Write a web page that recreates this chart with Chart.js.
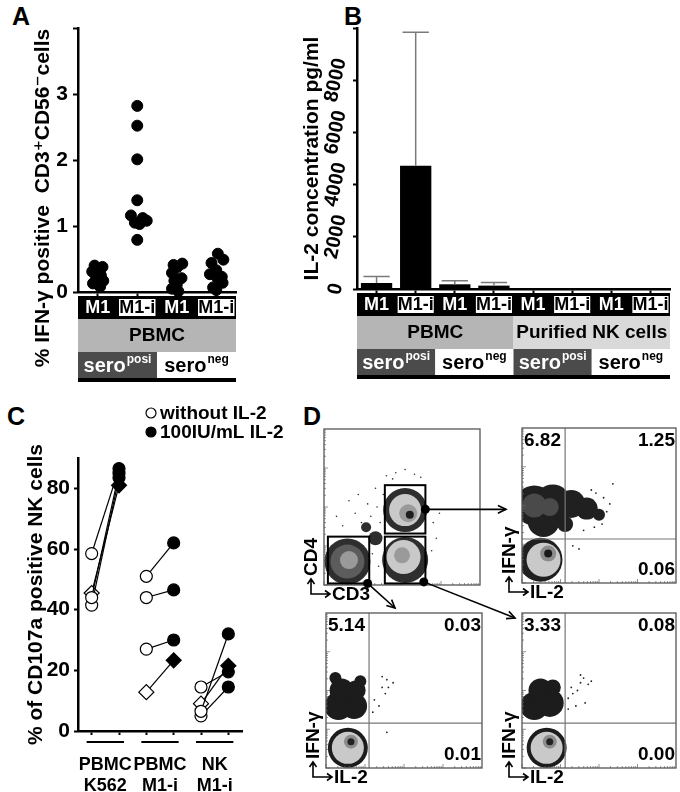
<!DOCTYPE html>
<html>
<head>
<meta charset="utf-8">
<script src="https://cdn.jsdelivr.net/npm/chart.js@4.4.0/dist/chart.umd.min.js"></script>
<style>
  body { margin: 0; background: #fff; width: 680px; height: 792px; position: relative; overflow: hidden;
         font-family: "Liberation Sans", Arial, sans-serif; }
  canvas { position: absolute; }
  .panel { position: absolute; font-weight: bold; font-size: 25px; line-height: 25px; }
</style>
</head>
<body>
<div class="panel" style="left:12px;top:4px">A</div>
<div class="panel" style="left:344px;top:4px">B</div>
<div class="panel" style="left:7px;top:404px">C</div>
<div class="panel" style="left:303px;top:404px">D</div>

<canvas id="chartA" width="240" height="392" style="left:0;top:0"></canvas>
<canvas id="chartB" width="380" height="392" style="left:300px;top:0"></canvas>
<canvas id="chartC" width="300" height="392" style="left:0;top:400px"></canvas>
<canvas id="flow1" width="190" height="185" style="left:296px;top:420px"></canvas>
<canvas id="flow2" width="186" height="185" style="left:494px;top:420px"></canvas>
<canvas id="flow3" width="190" height="188" style="left:296px;top:604px"></canvas>
<canvas id="flow4" width="186" height="188" style="left:494px;top:604px"></canvas>
<canvas id="arrows" width="680" height="792" style="left:0;top:0;pointer-events:none"></canvas>

<script>
// ---- data ----

// panel A: % IFN-y positive CD3+CD56- cells, one dot per donor
const aStim = ['M1', 'M1-i', 'M1', 'M1-i'];
const aCells = ['PBMC'];
const aSero = ['posi', 'neg'];
const aM1Pos = [0.40, 0.38, 0.31, 0.25, 0.21, 0.17, 0.13, 0.08];
const aM1PosJit = [-0.08, 0.12, -0.14, 0.08, -0.04, 0.14, -0.12, 0.06];
const aM1iPos = [2.82, 2.52, 2.01, 1.39, 1.16, 1.12, 1.08, 1.05, 1.03, 0.79];
const aM1iPosJit = [0, 0, 0, 0, -0.16, 0.14, 0.24, -0.06, 0.06, 0];
const aM1Neg = [0.43, 0.41, 0.38, 0.29, 0.21, 0.17, 0.11, 0.05, 0.01];
const aM1NegJit = [0.14, -0.08, 0.02, -0.12, 0.12, -0.06, 0.0, -0.12, 0.04];
const aM1iNeg = [0.58, 0.49, 0.44, 0.33, 0.27, 0.23, 0.20, 0.14, 0.07, 0.03];
const aM1iNegJit = [0.04, 0.18, -0.12, 0.0, -0.16, 0.14, 0.04, 0.16, -0.08, 0.0];

// panel B: IL-2 concentration pg/ml (mean + SD)
const bStim = ['M1', 'M1-i', 'M1', 'M1-i', 'M1', 'M1-i', 'M1', 'M1-i'];
const bCells = ['PBMC', 'Purified NK cells'];
const bSero = ['posi', 'neg', 'posi', 'neg'];
const bMean = [230, 4720, 180, 130, 0, 0, 0, 0];
const bSD = [250, 5120, 140, 115, 0, 0, 0, 0];

// panel C: % CD107a positive NK cells, paired donors
const cGroups = [['PBMC', 'K562'], ['PBMC', 'M1-i'], ['NK', 'M1-i']];
const cSeries = ['without IL-2', '100IU/mL IL-2'];
const cWithout = [[58.5, 44, 41.5, 45.5], [51, 44, 27, 12.8], [14.5, 6.5, 5, 9]];
const cWith = [[86.5, 85, 83.5, 81], [62, 46.5, 30, 23.3], [19.5, 32, 14.5, 21.5]];
const cShape = ['circle', 'circle', 'circle', 'rectRot'];

// panel D: flow plots (populations as x, y, radius in 0-100 display units)
const d1Gates = [[2.5, 29, 1, 31], [39, 65, 33, 64], [39, 65, 1, 31]];
const d1Layers = [
  ['#2e2e2e', [[15, 15, 23], [52, 48, 22], [52, 16, 23], [33, 30, 7], [27, 37, 5]]],
  ['#5c5c5c', [[15, 15, 17]]],
  ['#c9c9c9', [[52, 48, 16], [51, 18, 17]]],
  ['#9a9a9a', [[16, 16, 9], [54, 46, 9], [50, 19, 8]]],
  ['#1e1e1e', [[55, 45, 4]]],
  ['#333333', [[24, 40, 0.8], [30, 44, 0.8], [20, 46, 0.8], [34, 50, 0.8], [28, 52, 0.8], [36, 40, 0.8],
               [40, 70, 0.8], [46, 72, 0.8], [52, 74, 0.8], [58, 71, 0.8], [62, 69, 0.8], [44, 68, 0.8],
               [70, 40, 0.8], [72, 30, 0.8], [69, 22, 0.8], [74, 46, 0.8], [12, 38, 0.8], [8, 44, 0.8],
               [22, 58, 0.8], [16, 54, 0.8], [33, 62, 0.8], [38, 58, 0.8], [31, 20, 0.8], [35, 12, 0.8]]]
];
const d2Layers = [
  ['#202020', [[12, 15, 22], [8, 50, 20], [20, 52, 18], [32, 51, 14], [42, 48, 11], [50, 44, 6], [14, 40, 16], [28, 38, 8]]],
  ['#4a4a4a', [[8, 50, 12], [18, 49, 9]]],
  ['#c9c9c9', [[14, 15, 17]]],
  ['#8c8c8c', [[17, 19, 8]]],
  ['#1a1a1a', [[17, 19, 4]]],
  ['#222222', [[59, 64, 0.9], [45, 60, 0.9], [47, 36, 0.9], [52, 38, 0.9], [40, 34, 0.9], [33, 24, 0.9],
               [37, 22, 0.9], [55, 46, 0.9], [57, 51, 0.9], [53, 55, 0.9], [48, 58, 0.9]]]
];
const d3Layers = [
  ['#1c1c1c', [[14, 13, 20], [8, 40, 14], [18, 40, 13], [10, 50, 12], [19, 50, 10], [6, 58, 6], [22, 56, 6]]],
  ['#c9c9c9', [[14, 13, 16]]],
  ['#8c8c8c', [[16, 17, 7]]],
  ['#222222', [[16, 17, 3.5]]],
  ['#222222', [[31, 44, 0.9], [34, 40, 0.9], [38, 48, 0.9], [36, 52, 0.9], [40, 52, 0.9], [39, 57, 0.9],
               [43, 55, 0.9], [36, 59, 0.9], [39, 23, 0.9], [30, 36, 0.9]]]
];
const d4Layers = [
  ['#1c1c1c', [[16, 13, 20], [8, 40, 14], [18, 42, 14], [12, 50, 12], [20, 52, 8]]],
  ['#c9c9c9', [[16, 13, 16]]],
  ['#8c8c8c', [[18, 17, 7]]],
  ['#222222', [[18, 17, 3.5]]],
  ['#222222', [[30, 45, 0.9], [33, 48, 0.9], [36, 50, 0.9], [32, 52, 0.9], [38, 55, 0.9], [40, 58, 0.9],
               [43, 54, 0.9], [45, 56, 0.9], [35, 40, 0.9], [30, 38, 0.9], [41, 42, 0.9], [38, 60, 0.9]]]
];
const dQuads = [null, [28, 28.4], [27.6, 29], [28, 29]];
const dNumbers = [null, ['6.82', '1.25', '', '0.06'], ['5.14', '0.03', '', '0.01'], ['3.33', '0.08', '', '0.00']];

// ---- shared stuff ----
const FONT = '"Liberation Sans", Arial, "DejaVu Sans", sans-serif';
Chart.defaults.font.family = FONT;
Chart.defaults.font.weight = 'bold';
Chart.defaults.color = '#000';

// the black/grey label rows under panels A and B
const tablePlugin = {
  id: 'tableRows',
  afterDraw(chart, args, o) {
    const { ctx, chartArea: a } = chart;
    const full = a.right - a.left;
    const w = full / o.stim.length;
    let y = a.bottom + 4;
    ctx.save();
    ctx.textAlign = 'center';
    ctx.textBaseline = 'middle';
    ctx.fillStyle = '#000';
    ctx.fillRect(a.left, y, full, 23);
    ctx.font = 'bold 18px ' + FONT;
    o.stim.forEach((s, i) => {
      const x0 = a.left + w * i;
      if (s === 'M1-i') {
        ctx.fillStyle = '#fff';
        ctx.fillRect(x0 + 1.5, y + 3, w - 3, 17);
        ctx.fillStyle = '#000';
      } else {
        ctx.fillStyle = '#fff';
      }
      ctx.fillText(s, x0 + w / 2, y + 12.5);
    });
    y += 23;
    const cw = full / o.cells.length;
    ctx.font = 'bold 19px ' + FONT;
    o.cells.forEach((c, i) => {
      ctx.fillStyle = o.cellColors[i];
      ctx.fillRect(a.left + cw * i, y, cw, 33);
      ctx.fillStyle = '#000';
      ctx.fillText(c, a.left + cw * (i + 0.5), y + 17);
    });
    y += 33;
    const sw = full / o.sero.length;
    o.sero.forEach((s, i) => {
      const pos = s === 'posi';
      ctx.fillStyle = pos ? '#4b4b4b' : '#fff';
      ctx.fillRect(a.left + sw * i, y, sw, 26);
      ctx.fillStyle = pos ? '#fff' : '#000';
      ctx.font = 'bold 20px ' + FONT;
      const w1 = ctx.measureText('sero').width;
      ctx.font = 'bold 12px ' + FONT;
      const w2 = ctx.measureText(s).width;
      const sx = a.left + sw * (i + 0.5) - (w1 + w2 + 1) / 2;
      ctx.textAlign = 'left';
      ctx.font = 'bold 20px ' + FONT;
      ctx.fillText('sero', sx, y + 14);
      ctx.font = 'bold 12px ' + FONT;
      ctx.fillText(s, sx + w1 + 1, y + 8);
      ctx.textAlign = 'center';
    });
    y += 26;
    ctx.fillStyle = '#000';
    ctx.fillRect(a.left, y, full, 4);
    ctx.restore();
  }
};

// rotated axis title placed freely (panel A's title runs past the axis)
const sideTitle = {
  id: 'sideTitle',
  afterDraw(chart, args, o) {
    const { ctx } = chart;
    ctx.save();
    ctx.translate(o.x, o.y);
    ctx.rotate(-Math.PI / 2);
    ctx.textAlign = 'center';
    ctx.textBaseline = 'middle';
    ctx.fillStyle = '#000';
    ctx.font = 'bold 21px ' + FONT;
    ctx.fillText(o.text, 0, 0);
    ctx.restore();
  }
};

function jitter(vals, jit, cat) {
  return vals.map((v, i) => ({ x: cat + jit[i], y: v }));
}

// This is panel A
new Chart(document.getElementById('chartA'), {
  type: 'scatter',
  data: {
    datasets: [{
      data: [].concat(jitter(aM1Pos, aM1PosJit, 1), jitter(aM1iPos, aM1iPosJit, 2),
                      jitter(aM1Neg, aM1NegJit, 3), jitter(aM1iNeg, aM1iNegJit, 4)),
      backgroundColor: '#000',
      borderColor: '#000',
      pointRadius: 5.5,
      clip: false
    }]
  },
  options: {
    responsive: false,
    animation: false,
    events: [],
    layout: { autoPadding: false, padding: { top: 28, right: 4, bottom: 96, left: 0 } },
    plugins: {
      legend: { display: false },
      tooltip: { enabled: false },
      tableRows: { stim: aStim, cells: aCells, cellColors: ['#b5b5b5'], sero: aSero },
      sideTitle: { x: 43, y: 198, text: '% IFN-γ positive  CD3⁺CD56⁻cells' }
    },
    scales: {
      x: {
        type: 'linear', min: 0.5, max: 4.5,
        afterBuildTicks: s => { s.ticks = [1, 2, 3, 4].map(v => ({ value: v })); },
        afterFit: s => { s.height = 4; },
        ticks: { display: false },
        grid: { drawOnChartArea: false, tickLength: 4, tickColor: '#000', tickWidth: 2 },
        border: { color: '#000', width: 2.5 }
      },
      y: {
        min: 0, max: 4,
        afterFit: s => { s.width = 78; },
        ticks: { stepSize: 1, padding: 5, font: { size: 21, weight: 'bold' }, callback: v => (v === 4 ? '' : v) },
        grid: { drawOnChartArea: false, tickLength: 5, tickColor: '#000', tickWidth: 2 },
        border: { color: '#000', width: 2.5 }
      }
    }
  },
  plugins: [tablePlugin, sideTitle]
});

// This is panel B, bars with SD whiskers
const errorBars = {
  id: 'errorBars',
  afterDatasetsDraw(chart) {
    const { ctx } = chart;
    const y = chart.scales.y;
    const meta = chart.getDatasetMeta(0);
    ctx.save();
    ctx.strokeStyle = '#7a7a7a';
    ctx.lineWidth = 1.5;
    meta.data.forEach((bar, i) => {
      if (!bSD[i]) return;
      const top = y.getPixelForValue(bMean[i] + bSD[i]);
      const half = bar.width * 0.42;
      ctx.beginPath();
      ctx.moveTo(bar.x, bar.y);
      ctx.lineTo(bar.x, top);
      ctx.moveTo(bar.x - half, top);
      ctx.lineTo(bar.x + half, top);
      ctx.stroke();
    });
    ctx.restore();
  }
};

new Chart(document.getElementById('chartB'), {
  type: 'bar',
  data: {
    labels: bStim,
    datasets: [{
      data: bMean,
      backgroundColor: '#000',
      categoryPercentage: 1,
      barPercentage: 0.8
    }]
  },
  options: {
    responsive: false,
    animation: false,
    events: [],
    layout: { autoPadding: false, padding: { top: 28, right: 10, bottom: 99, left: 0 } },
    plugins: {
      legend: { display: false },
      tooltip: { enabled: false },
      tableRows: { stim: bStim, cells: bCells, cellColors: ['#b5b5b5', '#d9d9d9'], sero: bSero }
    },
    scales: {
      x: {
        afterFit: s => { s.height = 4; },
        ticks: { display: false },
        grid: { offset: false, drawOnChartArea: false, tickLength: 4, tickColor: '#000', tickWidth: 2 },
        border: { color: '#000', width: 2.5 }
      },
      y: {
        min: 0, max: 10000,
        afterFit: s => { s.width = 57; },
        ticks: { stepSize: 2000, minRotation: 78, maxRotation: 78, crossAlign: 'center', padding: -5,
                 font: { size: 20, weight: 'bold' }, callback: v => (v === 10000 ? '' : v) },
        grid: { drawOnChartArea: false, tickLength: 4, tickColor: '#000', tickWidth: 2 },
        border: { color: '#000', width: 2.5 },
        title: { display: true, text: 'IL-2 concentration pg/ml', font: { size: 21, weight: 'bold' },
                 padding: { top: 0, bottom: 0 } }
      }
    }
  },
  plugins: [errorBars, tablePlugin]
});

// This is panel C, paired donors before/after IL-2
const cDatasets = [];
cGroups.forEach((g, gi) => {
  cWithout[gi].forEach((v, d) => {
    cDatasets.push({
      data: [{ x: gi * 2 + 0.5, y: v }, { x: gi * 2 + 1.5, y: cWith[gi][d] }],
      showLine: true,
      borderColor: '#000',
      borderWidth: 1.2,
      pointStyle: cShape[d],
      pointRadius: cShape[d] === 'rectRot' ? 7.5 : 6,
      pointBackgroundColor: ['#fff', '#000'],
      pointBorderColor: '#000',
      pointBorderWidth: 1.2,
      clip: false
    });
  });
});

const cExtras = {
  id: 'cExtras',
  afterDraw(chart) {
    const { ctx, chartArea: a } = chart;
    const x = chart.scales.x;
    ctx.save();
    ctx.strokeStyle = '#000';
    ctx.lineWidth = 2;
    ctx.textAlign = 'center';
    ctx.textBaseline = 'middle';
    ctx.font = 'bold 18px ' + FONT;
    cGroups.forEach((g, gi) => {
      const x1 = x.getPixelForValue(gi * 2 + 0.5) - 5;
      const x2 = x.getPixelForValue(gi * 2 + 1.5) + 5;
      ctx.beginPath();
      ctx.moveTo(x1, a.bottom + 11);
      ctx.lineTo(x2, a.bottom + 11);
      ctx.stroke();
      ctx.fillStyle = '#000';
      ctx.fillText(g[0], (x1 + x2) / 2, a.bottom + 34);
      ctx.fillText(g[1], (x1 + x2) / 2, a.bottom + 55);
    });
    // legend
    ctx.textAlign = 'left';
    ctx.font = 'bold 19px ' + FONT;
    cSeries.forEach((s, i) => {
      const ly = 13 + i * 19;
      ctx.beginPath();
      ctx.arc(151, ly, 5, 0, Math.PI * 2);
      ctx.fillStyle = i === 0 ? '#fff' : '#000';
      ctx.fill();
      ctx.lineWidth = 1.2;
      ctx.stroke();
      ctx.fillStyle = '#000';
      ctx.fillText(s, 160, ly + 1);
    });
    ctx.restore();
  }
};

new Chart(document.getElementById('chartC'), {
  type: 'scatter',
  data: { datasets: cDatasets },
  options: {
    responsive: false,
    animation: false,
    events: [],
    layout: { autoPadding: false, padding: { top: 58, right: 58, bottom: 57, left: 0 } },
    plugins: { legend: { display: false }, tooltip: { enabled: false } },
    scales: {
      x: {
        type: 'linear', min: 0, max: 6,
        afterBuildTicks: s => { s.ticks = [0.5, 1.5, 2.5, 3.5, 4.5, 5.5].map(v => ({ value: v })); },
        afterFit: s => { s.height = 4; },
        ticks: { display: false },
        grid: { drawOnChartArea: false, tickLength: 4, tickColor: '#000', tickWidth: 2 },
        border: { color: '#000', width: 2.5 }
      },
      y: {
        min: 0, max: 90,
        afterBuildTicks: s => { s.ticks = [0, 20, 40, 60, 80].map(v => ({ value: v })); },
        afterFit: s => { s.width = 78; },
        ticks: { padding: 4, font: { size: 21, weight: 'bold' } },
        grid: { drawOnChartArea: false, tickLength: 4, tickColor: '#000', tickWidth: 2 },
        border: { color: '#000', width: 2.5 },
        title: { display: true, text: '% of CD107a positive NK cells', font: { size: 21, weight: 'bold' },
                 padding: { top: 24, bottom: 0 } }
      }
    }
  },
  plugins: [cExtras]
});

// This is panel D, four flow plots
function upArrowLabel(ctx, a, xText, yText) {
  const cx = a.left - 13, cy = a.bottom + 9;
  ctx.save();
  ctx.strokeStyle = '#000';
  ctx.lineWidth = 1.6;
  ctx.beginPath();
  ctx.moveTo(cx, a.bottom - 6); ctx.lineTo(cx, cy); ctx.lineTo(a.left + 6, cy);
  ctx.moveTo(cx - 3.5, a.bottom - 1); ctx.lineTo(cx, a.bottom - 6); ctx.lineTo(cx + 3.5, a.bottom - 1);
  ctx.moveTo(a.left + 1, cy - 3.5); ctx.lineTo(a.left + 6, cy); ctx.lineTo(a.left + 1, cy + 3.5);
  ctx.stroke();
  ctx.fillStyle = '#000';
  ctx.font = 'bold 19px ' + FONT;
  ctx.textBaseline = 'middle';
  ctx.textAlign = 'left';
  ctx.fillText(xText, a.left + 8, cy + 1);
  ctx.translate(cx + 1, a.bottom - 9);
  ctx.rotate(-Math.PI / 2);
  ctx.fillText(yText, 0, 0);
  ctx.restore();
}

const flowPlugin = {
  id: 'flowFrame',
  afterDatasetsDraw(chart, args, o) {
    const { ctx, chartArea: a } = chart;
    const x = chart.scales.x, y = chart.scales.y;
    ctx.save();
    // log decade ticks along left and bottom
    ctx.strokeStyle = '#666';
    ctx.lineWidth = 0.7;
    for (let d = 0; d < 4; d++) {
      for (let k = 1; k < 10; k++) {
        const v = (d + Math.log10(k)) * 25;
        const len = k === 1 ? 4 : 2;
        const px = x.getPixelForValue(v), py = y.getPixelForValue(v);
        ctx.beginPath();
        ctx.moveTo(px, a.bottom); ctx.lineTo(px, a.bottom - len);
        ctx.moveTo(a.left, py); ctx.lineTo(a.left + len, py);
        ctx.stroke();
      }
    }
    if (o.quad) {
      ctx.strokeStyle = '#777';
      ctx.lineWidth = 1.2;
      const qx = x.getPixelForValue(o.quad[0]), qy = y.getPixelForValue(o.quad[1]);
      ctx.beginPath();
      ctx.moveTo(qx, a.top); ctx.lineTo(qx, a.bottom);
      ctx.moveTo(a.left, qy); ctx.lineTo(a.right, qy);
      ctx.stroke();
    }
    ctx.strokeStyle = '#555';
    ctx.lineWidth = 1.3;
    ctx.strokeRect(a.left, a.top, a.right - a.left, a.bottom - a.top);
    if (o.nums) {
      ctx.fillStyle = '#000';
      ctx.font = 'bold 19px ' + FONT;
      ctx.textBaseline = 'middle';
      ctx.textAlign = 'left';
      ctx.fillText(o.nums[0], a.left + 2, a.top + 13);
      ctx.textAlign = 'right';
      ctx.fillText(o.nums[1], a.right - 1, a.top + 13);
      ctx.fillText(o.nums[3], a.right - 1, a.bottom - 13);
    }
    if (o.gates) {
      ctx.strokeStyle = '#000';
      ctx.lineWidth = 2;
      o.gates.forEach(g => {
        const x1 = x.getPixelForValue(g[0]), x2 = x.getPixelForValue(g[1]);
        const y1 = y.getPixelForValue(g[3]), y2 = y.getPixelForValue(g[2]);
        ctx.strokeRect(x1, y1, x2 - x1, y2 - y1);
      });
    }
    upArrowLabel(ctx, a, o.xLabel, o.yLabel);
    ctx.restore();
  }
};

function flowChart(id, layers, pad, extra) {
  return new Chart(document.getElementById(id), {
    type: 'bubble',
    data: {
      // later layers sit on top (lower order is drawn last)
      datasets: layers.map(([color, pts], i) => ({
        data: pts.map(p => ({ x: p[0], y: p[1], r: p[2] })),
        backgroundColor: color,
        borderWidth: 0,
        order: -i,
        clip: 0
      }))
    },
    options: {
      responsive: false,
      animation: false,
      events: [],
      layout: { autoPadding: false, padding: pad },
      plugins: { legend: { display: false }, tooltip: { enabled: false }, flowFrame: extra },
      scales: {
        x: { display: false, min: 0, max: 100 },
        y: { display: false, min: 0, max: 100 }
      }
    },
    plugins: [flowPlugin]
  });
}

const f1 = flowChart('flow1', d1Layers, { left: 28, top: 9, right: 6, bottom: 20 },
  { gates: d1Gates, xLabel: 'CD3', yLabel: 'CD4' });
const f2 = flowChart('flow2', d2Layers, { left: 28, top: 8, right: 4, bottom: 22 },
  { quad: dQuads[1], nums: dNumbers[1], xLabel: 'IL-2', yLabel: 'IFN-γ' });
const f3 = flowChart('flow3', d3Layers, { left: 30, top: 9, right: 4, bottom: 24 },
  { quad: dQuads[2], nums: dNumbers[2], xLabel: 'IL-2', yLabel: 'IFN-γ' });
const f4 = flowChart('flow4', d4Layers, { left: 28, top: 9, right: 4, bottom: 24 },
  { quad: dQuads[3], nums: dNumbers[3], xLabel: 'IL-2', yLabel: 'IFN-γ' });

// arrows from the gates to the gated plots
function pagePoint(chart, canvasId, vx, vy) {
  const el = document.getElementById(canvasId);
  return [chart.scales.x.getPixelForValue(vx) + el.offsetLeft, chart.scales.y.getPixelForValue(vy) + el.offsetTop];
}
function pageArea(chart, canvasId) {
  const el = document.getElementById(canvasId);
  const a = chart.chartArea;
  return { left: a.left + el.offsetLeft, top: a.top + el.offsetTop };
}
function arrow(ctx, x1, y1, x2, y2) {
  ctx.beginPath();
  ctx.moveTo(x1, y1);
  ctx.lineTo(x2, y2);
  ctx.stroke();
  const ang = Math.atan2(y2 - y1, x2 - x1), h = 9;
  ctx.beginPath();
  ctx.moveTo(x2 - h * Math.cos(ang - 0.45), y2 - h * Math.sin(ang - 0.45));
  ctx.lineTo(x2, y2);
  ctx.lineTo(x2 - h * Math.cos(ang + 0.45), y2 - h * Math.sin(ang + 0.45));
  ctx.stroke();
}

const actx = document.getElementById('arrows').getContext('2d');
actx.strokeStyle = '#000';
actx.fillStyle = '#000';
actx.lineWidth = 1.6;
const g2 = d1Gates[1], g3 = d1Gates[2], g1 = d1Gates[0];
const s2 = pagePoint(f1, 'flow1', g2[1], (g2[2] + g2[3]) / 2);
const s3 = pagePoint(f1, 'flow1', g3[1] - 1, g3[2] + 1);
const s1 = pagePoint(f1, 'flow1', g1[1] - 1, g1[2]);
const a2 = pageArea(f2, 'flow2'), a3 = pageArea(f3, 'flow3'), a4 = pageArea(f4, 'flow4');
arrow(actx, s2[0], s2[1], a2.left - 16, s2[1]);
arrow(actx, s3[0], s3[1], a4.left - 7, a4.top + 5);
arrow(actx, s1[0], s1[1], a3.left + 69, a3.top - 5);
[s1, s2, s3].forEach(p => {
  actx.beginPath();
  actx.arc(p[0], p[1], 4.5, 0, Math.PI * 2);
  actx.fill();
});
</script>
</body>
</html>
